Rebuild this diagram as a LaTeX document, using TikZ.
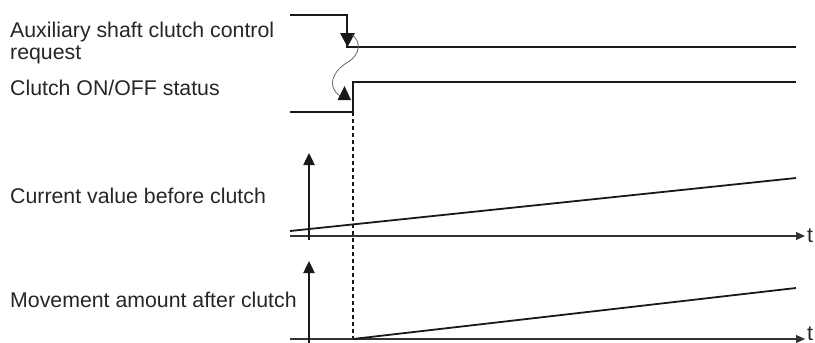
\documentclass[tikz,border=0pt]{standalone}
\usepackage{fontspec}
\setmainfont{Liberation Sans}
\usetikzlibrary{arrows.meta}
\begin{document}
\begin{tikzpicture}[x=1pt,y=-1pt,
  lbl/.style={anchor=base west,inner sep=0pt,font=\fontsize{21.3}{25}\selectfont,text=black!85},
  sig/.style={line width=2.4pt,black!90},
  axis/.style={line width=1.1pt,black!80,-{Triangle[width=8pt,length=9pt]}},
  ramp/.style={line width=1.8pt,black!90},
  varrow/.style={line width=2.4pt,black!90,-{Triangle[width=11pt,length=12pt]}},
  tri/.style={fill=black!90},
  dsh/.style={line width=2.5pt,black!90,dash pattern=on 4pt off 3pt}]
\useasboundingbox (0,0) rectangle (815,343);
% labels
\node[lbl] (l1) at (10,37) {Auxiliary shaft clutch control};
\node[lbl] (l1b) at (10,59) {request};
\node[lbl] (l2) at (10,95) {Clutch ON/OFF status};
\node[lbl] (l3) at (10,203) {Current value before clutch};
\node[lbl] (l4) at (10,307) {Movement amount after clutch};
% coordinates
\coordinate (a0) at (290,15);
\coordinate (a1) at (347,15);
\coordinate (a2) at (347,47);
\coordinate (a3) at (796,47);
\coordinate (b0) at (290,112);
\coordinate (b1) at (353,112);
\coordinate (b2) at (353,82);
\coordinate (b3) at (796,82);
% request signal
\draw[sig] (a0) -- (a1) -- (a2) -- (a3);
\fill[tri] (340,33) -- (355,33) -- (347.5,47) -- cycle;
% status signal
\draw[sig] (b0) -- (b1) -- (b2) -- (b3);
\fill[tri] (337.5,100) -- (351,100) -- (344.5,86) -- cycle;
% wavy link
\coordinate (w0) at (352,35);
\coordinate (w1) at (340,96);
\draw[line width=0.8pt,black!60] (w0) .. controls (361,41) and (361,54) .. (348,62)
   .. controls (333,71) and (326,86) .. (w1);
% dashed line
\coordinate (d1) at (353,343);
\draw[dsh] (b1) -- (d1);
% panel 3
\coordinate (c0) at (290,236);
\coordinate (c1) at (805,236);
\draw[axis] (c0) -- (c1);
\node[lbl] (t1) at (807,242) {t};
\coordinate (r0) at (290,231);
\coordinate (r1) at (796,178);
\draw[ramp] (r0) -- (r1);
\coordinate (v0) at (309,240);
\coordinate (v1) at (309,153);
\draw[varrow] (v0) -- (v1);
% panel 4
\coordinate (e0) at (290,339);
\coordinate (e1) at (805,339);
\draw[axis] (e0) -- (e1);
\node[lbl] (t2) at (807,340.5) {t};
\coordinate (s0) at (353,339);
\coordinate (s1) at (796,288);
\draw[ramp] (s0) -- (s1);
\coordinate (u0) at (309,345);
\coordinate (u1) at (309,261);
\draw[varrow] (u0) -- (u1);
\end{tikzpicture}
\end{document}
